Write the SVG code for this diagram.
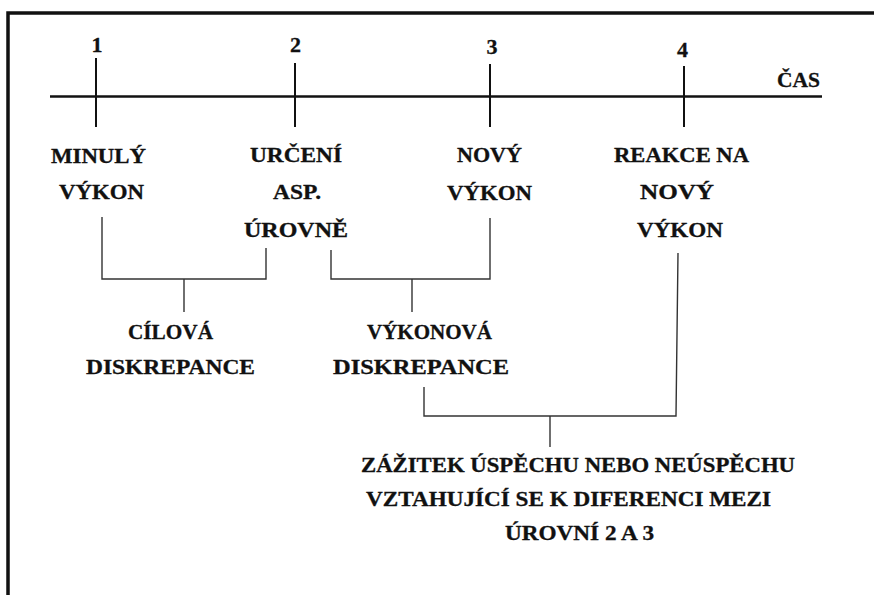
<svg xmlns="http://www.w3.org/2000/svg" width="874" height="595" viewBox="0 0 874 595">
<style>
.t{font-family:"Liberation Serif","Times New Roman",serif;font-weight:bold;font-size:20px;fill:#111;stroke:#111;stroke-width:0.3}
.n{text-anchor:middle;font-size:22px}
.axis{stroke:#111;stroke-width:2.5;fill:none}
.tick{stroke:#111;stroke-width:2;fill:none}
.br{stroke:#333;stroke-width:1.4;fill:none}
.frame{stroke:#111;stroke-width:3.5;fill:none}
</style>
<rect width="874" height="595" fill="#fff"/>
<path class="frame" d="M8 595 V13 H874"/>
<g id="connectors">
<line class="axis" x1="50" y1="96.5" x2="822" y2="96.5"/>
<line class="tick" x1="96" y1="58" x2="96" y2="127"/>
<line class="tick" x1="295" y1="63" x2="295" y2="127"/>
<line class="tick" x1="490" y1="64" x2="490" y2="127"/>
<line class="tick" x1="684" y1="66" x2="684" y2="127"/>
<path class="br" d="M102 217 V279 H266 V248"/>
<path class="br" d="M184 279 V312"/>
<path class="br" d="M331 250 V279 H490 V218"/>
<path class="br" d="M412 279 V312"/>
<path class="br" d="M424 387 V416 H676 L678 253"/>
<path class="br" d="M550 416 V447"/>
</g>
<g id="time">
<text class="t" x="777" y="87" textLength="43" lengthAdjust="spacingAndGlyphs">ČAS</text>
</g>
<g id="n1">
<text class="t n" x="97" y="52">1</text>
<text class="t" x="51" y="163" textLength="95" lengthAdjust="spacingAndGlyphs">MINULÝ</text>
<text class="t" x="59" y="199" textLength="85" lengthAdjust="spacingAndGlyphs">VÝKON</text>
</g>
<g id="n2">
<text class="t n" x="295.5" y="52">2</text>
<text class="t" x="250" y="162" textLength="92" lengthAdjust="spacingAndGlyphs">URČENÍ</text>
<text class="t" x="273" y="199" textLength="48" lengthAdjust="spacingAndGlyphs">ASP.</text>
<text class="t" x="244" y="237" textLength="104" lengthAdjust="spacingAndGlyphs">ÚROVNĚ</text>
</g>
<g id="n3">
<text class="t n" x="492" y="54">3</text>
<text class="t" x="457" y="162" textLength="65" lengthAdjust="spacingAndGlyphs">NOVÝ</text>
<text class="t" x="447" y="200" textLength="85" lengthAdjust="spacingAndGlyphs">VÝKON</text>
</g>
<g id="n4">
<text class="t n" x="682.5" y="57">4</text>
<text class="t" x="614" y="162" textLength="135" lengthAdjust="spacingAndGlyphs">REAKCE NA</text>
<text class="t" x="640" y="199" textLength="74" lengthAdjust="spacingAndGlyphs">NOVÝ</text>
<text class="t" x="637" y="237" textLength="86" lengthAdjust="spacingAndGlyphs">VÝKON</text>
</g>
<g id="cilova">
<text class="t" x="128" y="339" textLength="85" lengthAdjust="spacingAndGlyphs">CÍLOVÁ</text>
<text class="t" x="86" y="374" textLength="169" lengthAdjust="spacingAndGlyphs">DISKREPANCE</text>
</g>
<g id="vykonova">
<text class="t" x="367" y="339" textLength="125" lengthAdjust="spacingAndGlyphs">VÝKONOVÁ</text>
<text class="t" x="333" y="374" textLength="176" lengthAdjust="spacingAndGlyphs">DISKREPANCE</text>
</g>
<g id="zazitek">
<text class="t" x="361" y="472" textLength="434" lengthAdjust="spacingAndGlyphs">ZÁŽITEK ÚSPĚCHU NEBO NEÚSPĚCHU</text>
<text class="t" x="366" y="506" textLength="405" lengthAdjust="spacingAndGlyphs">VZTAHUJÍCÍ SE K DIFERENCI MEZI</text>
<text class="t" x="505" y="540" textLength="149" lengthAdjust="spacingAndGlyphs">ÚROVNÍ 2 A 3</text>
</g>
</svg>
